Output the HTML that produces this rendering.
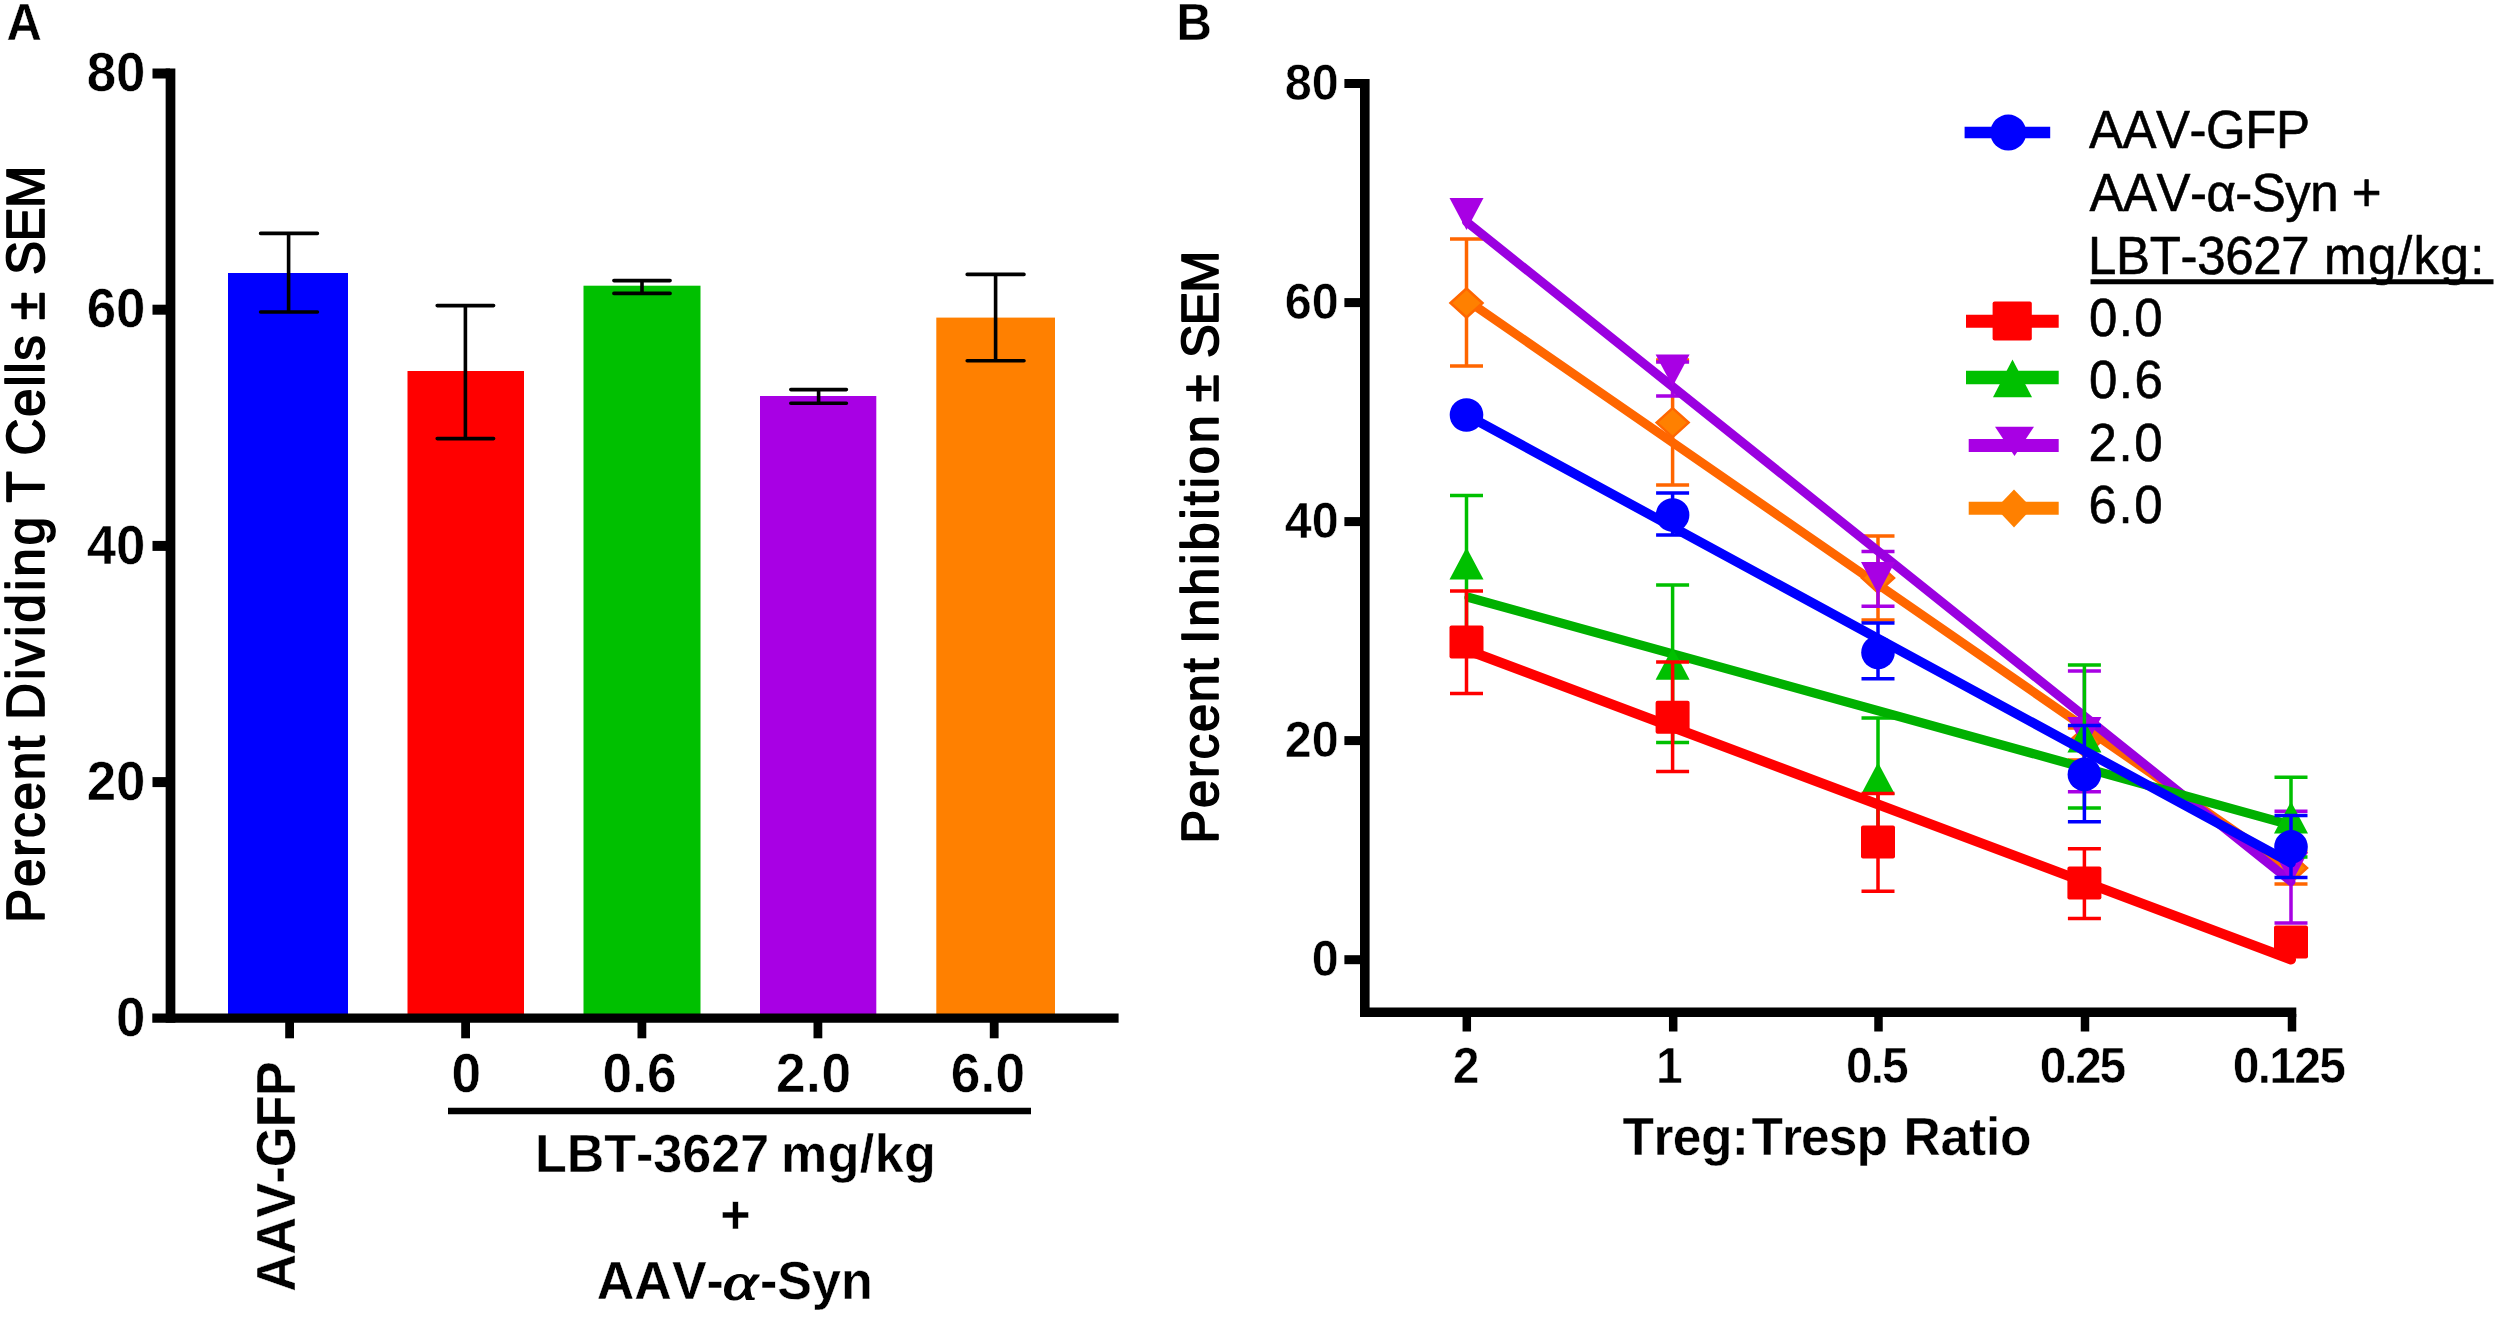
<!DOCTYPE html>
<html lang="en"><head><meta charset="utf-8"><title>Figure</title>
<style>
html,body{margin:0;padding:0;background:#fff;}
body{width:2500px;height:1317px;overflow:hidden;}
svg{display:block;}
text{font-family:"Liberation Sans",Arial,Helvetica,sans-serif;fill:#000;font-kerning:none;}
.b{font-weight:bold;stroke:#fff;stroke-width:0.4px;}
.fb{stroke:#000;stroke-width:1.6px;stroke-linejoin:round;}
.bt{font-weight:bold;stroke:#fff;stroke-width:0.5px;}
.lg{font-weight:normal;stroke:#000;stroke-width:0.6px;stroke-linejoin:round;}
.al{font-family:"Liberation Serif","DejaVu Serif",serif;font-style:italic;font-weight:normal;stroke:#000;stroke-width:1.2px;}
</style></head><body>
<svg width="2500" height="1317" viewBox="0 0 2500 1317">
<rect x="0" y="0" width="2500" height="1317" fill="#fff"/>

<g id="panelA">
<text class="b" transform="translate(6.4,39.7) scale(1,1.04)" font-size="49" text-anchor="start">A</text>
<rect x="228" y="273" width="120.0" height="742.5" fill="#0000ff"/>
<rect x="407.5" y="371" width="116.5" height="644.5" fill="#ff0000"/>
<rect x="583.5" y="285.7" width="117.0" height="729.8" fill="#00c000"/>
<rect x="760" y="396" width="116.3" height="619.5" fill="#a800e4"/>
<rect x="936.3" y="317.6" width="118.7" height="697.9" fill="#ff8000"/>
<path d="M260.6 233.4H317.4M260.6 312H317.4M288.6 233.4V312" stroke="#000" stroke-width="3.6" stroke-linecap="round" fill="none"/>
<path d="M437.20000000000005 305.6H493.59999999999997M437.20000000000005 438.6H493.59999999999997M465.4 305.6V438.6" stroke="#000" stroke-width="3.6" stroke-linecap="round" fill="none"/>
<path d="M613.9 280.6H670.1M613.9 293.4H670.1M642 280.6V293.4" stroke="#000" stroke-width="3.6" stroke-linecap="round" fill="none"/>
<path d="M790.8000000000001 389.6H846.4M790.8000000000001 403.3H846.4M818.6 389.6V403.3" stroke="#000" stroke-width="3.6" stroke-linecap="round" fill="none"/>
<path d="M967.2 274.4H1023.9999999999999M967.2 360.8H1023.9999999999999M995.6 274.4V360.8" stroke="#000" stroke-width="3.6" stroke-linecap="round" fill="none"/>
<path d="M170.5 68.6V1022.8" stroke="#000" stroke-width="9.7" fill="none"/>
<path d="M152.3 1018.1H1118.6" stroke="#000" stroke-width="9.1" fill="none"/>
<path d="M152.5 73.5H170" stroke="#000" stroke-width="10" fill="none"/>
<path d="M152.5 309.7H170" stroke="#000" stroke-width="10" fill="none"/>
<path d="M152.5 545.9H170" stroke="#000" stroke-width="10" fill="none"/>
<path d="M152.5 782.1H170" stroke="#000" stroke-width="10" fill="none"/>
<path d="M289.6 1020V1038.3" stroke="#000" stroke-width="8.8" fill="none"/>
<path d="M465.6 1020V1038.3" stroke="#000" stroke-width="8.8" fill="none"/>
<path d="M641.9 1020V1038.3" stroke="#000" stroke-width="8.8" fill="none"/>
<path d="M817.9 1020V1038.3" stroke="#000" stroke-width="8.8" fill="none"/>
<path d="M994.2 1020V1038.3" stroke="#000" stroke-width="8.8" fill="none"/>
<text class="bt" transform="translate(145.4,91.2) scale(1,1.04)" font-size="52.8" text-anchor="end">80</text>
<text class="bt" transform="translate(145.4,327.4) scale(1,1.04)" font-size="52.8" text-anchor="end">60</text>
<text class="bt" transform="translate(145.4,563.6) scale(1,1.04)" font-size="52.8" text-anchor="end">40</text>
<text class="bt" transform="translate(145.4,799.8) scale(1,1.04)" font-size="52.8" text-anchor="end">20</text>
<text class="bt" transform="translate(145.4,1035.7) scale(1,1.04)" font-size="52.8" text-anchor="end">0</text>
<text class="bt" transform="translate(451.4,1092.3) scale(1,1.04)" font-size="53.2" text-anchor="start" letter-spacing="0.00">0</text>
<text class="bt" transform="translate(602.5,1092.3) scale(1,1.04)" font-size="53.2" text-anchor="start" letter-spacing="0.09">0.6</text>
<text class="bt" transform="translate(775.96,1092.3) scale(1,1.04)" font-size="53.2" text-anchor="start" letter-spacing="0.54">2.0</text>
<text class="bt" transform="translate(950.65,1092.3) scale(1,1.04)" font-size="53.2" text-anchor="start" letter-spacing="0.19">6.0</text>
<text class="b" transform="translate(294.9,0) rotate(-90) scale(1,1.04)" font-size="52.5"><tspan x="-1291.81" letter-spacing="-0.94">AAV-GFP</tspan></text>
<path d="M448 1111H1031" stroke="#000" stroke-width="6.5" fill="none"/>
<text class="b" transform="translate(534.92,1172.3) scale(1,1.04)" font-size="52" text-anchor="start" letter-spacing="0.01">LBT-3627</text>
<text class="b" transform="translate(780.97,1172.3) scale(1,1.04)" font-size="52" text-anchor="start" letter-spacing="0.44">mg/kg</text>
<text class="b" transform="translate(735.5,1233) scale(1,1.04)" font-size="52" text-anchor="middle">+</text>
<text class="b" transform="translate(596.8,1299.2) scale(1,1.04)" font-size="52" text-anchor="start">AAV-</text>
<text class="al" transform="translate(740.3,1299.4) scale(1,1.04)" font-size="50" text-anchor="middle" textLength="35" lengthAdjust="spacingAndGlyphs">α</text>
<text class="b" transform="translate(760,1299.2) scale(1,1.04)" font-size="52" text-anchor="start">-Syn</text>
<text class="fb" transform="translate(44.0,0) rotate(-90) scale(1,1.04)" font-size="51.2"><tspan x="-923.00" letter-spacing="1.82">Percent</tspan><tspan x="-720.10" letter-spacing="3.05">Dividing</tspan><tspan x="-502.55" letter-spacing="0.00">T</tspan><tspan x="-455.50" letter-spacing="1.64">Cells</tspan><tspan x="-320.02" letter-spacing="0.00">±</tspan><tspan x="-274.92" letter-spacing="-0.76">SEM</tspan></text>
</g>
<g id="panelB">
<text class="b" transform="translate(1176.4,40) scale(1,1.04)" font-size="49" text-anchor="start">B</text>
<path d="M1450.0 239H1483.0M1450.0 366H1483.0M1466.5 239V366" stroke="#ff6600" stroke-width="3.5" fill="none"/>
<path d="M1656.1 360H1689.1M1656.1 485H1689.1M1672.6 360V485" stroke="#ff6600" stroke-width="3.5" fill="none"/>
<path d="M1861.5 536H1894.5M1861.5 620H1894.5M1878 536V620" stroke="#ff6600" stroke-width="3.5" fill="none"/>
<path d="M2067.9 728H2100.9M2067.9 760H2100.9M2084.4 728V760" stroke="#ff6600" stroke-width="3.5" fill="none"/>
<path d="M2274.5 852H2307.5M2274.5 884H2307.5M2291 852V884" stroke="#ff6600" stroke-width="3.5" fill="none"/>
<path d="M1466.5 300L2291 870" stroke="#ff6600" stroke-width="9" stroke-linecap="round" fill="none"/>
<path d="M1450.5 303L1466.5 288.5L1482.5 303L1466.5 317.5Z" fill="#ff8000" stroke="#ff6600" stroke-width="2.5" stroke-linejoin="miter"/>
<path d="M1656.6 422.6L1672.6 408.1L1688.6 422.6L1672.6 437.1Z" fill="#ff8000" stroke="#ff6600" stroke-width="2.5" stroke-linejoin="miter"/>
<path d="M1862 578L1878 563.5L1894 578L1878 592.5Z" fill="#ff8000" stroke="#ff6600" stroke-width="2.5" stroke-linejoin="miter"/>
<path d="M2068.4 742L2084.4 727.5L2100.4 742L2084.4 756.5Z" fill="#ff8000" stroke="#ff6600" stroke-width="2.5" stroke-linejoin="miter"/>
<path d="M2275 868L2291 853.5L2307 868L2291 882.5Z" fill="#ff8000" stroke="#ff6600" stroke-width="2.5" stroke-linejoin="miter"/>
<path d="M1656.1 362H1689.1M1656.1 396H1689.1M1672.6 362V396" stroke="#a800e4" stroke-width="3.5" fill="none"/>
<path d="M1861.5 551.6H1894.5M1861.5 606.3H1894.5M1878 551.6V606.3" stroke="#a800e4" stroke-width="3.5" fill="none"/>
<path d="M2067.9 671H2100.9M2067.9 791.7H2100.9M2084.4 671V791.7" stroke="#a800e4" stroke-width="3.5" fill="none"/>
<path d="M2274.5 811.3H2307.5M2274.5 923H2307.5M2291 811.3V923" stroke="#a800e4" stroke-width="3.5" fill="none"/>
<path d="M1466.5 221.8L2291 881.5" stroke="#9a00e0" stroke-width="9" stroke-linecap="round" fill="none"/>
<path d="M1449.5 198H1483.5L1466.5 230Z" fill="#a800e4"/>
<path d="M1655.6 354.5H1689.6L1672.6 386.5Z" fill="#a800e4"/>
<path d="M1861 562H1895L1878 594Z" fill="#a800e4"/>
<path d="M2067.4 717H2101.4L2084.4 749Z" fill="#a800e4"/>
<path d="M2274 852H2308L2291 884Z" fill="#a800e4"/>
<path d="M1450.0 495.6H1483.0M1450.0 631.4H1483.0M1466.5 495.6V631.4" stroke="#00c000" stroke-width="3.5" fill="none"/>
<path d="M1656.1 585H1689.1M1656.1 742.4H1689.1M1672.6 585V742.4" stroke="#00c000" stroke-width="3.5" fill="none"/>
<path d="M1861.5 718H1894.5M1861.5 839H1894.5M1878 718V839" stroke="#00c000" stroke-width="3.5" fill="none"/>
<path d="M2067.9 665H2100.9M2067.9 808H2100.9M2084.4 665V808" stroke="#00c000" stroke-width="3.5" fill="none"/>
<path d="M2274.5 777.3H2307.5M2274.5 857H2307.5M2291 777.3V857" stroke="#00c000" stroke-width="3.5" fill="none"/>
<path d="M1469 597.5L2291 825" stroke="#00b000" stroke-width="9.2" stroke-linecap="round" fill="none"/>
<path d="M1449.5 579.5H1483.5L1466.5 547.5Z" fill="#00c000"/>
<path d="M1655.6 679.7H1689.6L1672.6 647.7Z" fill="#00c000"/>
<path d="M1861 794.6H1895L1878 762.6Z" fill="#00c000"/>
<path d="M2067.4 752.5H2101.4L2084.4 720.5Z" fill="#00c000"/>
<path d="M2274 833.5H2308L2291 801.5Z" fill="#00c000"/>
<path d="M1450.0 591H1483.0M1450.0 693.4H1483.0M1466.5 591V693.4" stroke="#ff0000" stroke-width="3.5" fill="none"/>
<path d="M1656.1 662H1689.1M1656.1 771.4H1689.1M1672.6 662V771.4" stroke="#ff0000" stroke-width="3.5" fill="none"/>
<path d="M1861.5 793.6H1894.5M1861.5 891.3H1894.5M1878 793.6V891.3" stroke="#ff0000" stroke-width="3.5" fill="none"/>
<path d="M2067.9 848.8H2100.9M2067.9 918.4H2100.9M2084.4 848.8V918.4" stroke="#ff0000" stroke-width="3.5" fill="none"/>
<path d="M1467 650L2291 959.5" stroke="#ff0000" stroke-width="10" stroke-linecap="round" fill="none"/>
<rect x="1449.5" y="625.5" width="34" height="33" rx="2" fill="#ff0000"/>
<rect x="1655.6" y="700.8" width="34" height="33" rx="2" fill="#ff0000"/>
<rect x="1861" y="825.5" width="34" height="33" rx="2" fill="#ff0000"/>
<rect x="2067.4" y="866.5" width="34" height="33" rx="2" fill="#ff0000"/>
<rect x="2274" y="925.5" width="34" height="33" rx="2" fill="#ff0000"/>
<path d="M1656.1 493H1689.1M1656.1 535H1689.1M1672.6 493V535" stroke="#0000ff" stroke-width="3.5" fill="none"/>
<path d="M1861.5 623H1894.5M1861.5 678.8H1894.5M1878 623V678.8" stroke="#0000ff" stroke-width="3.5" fill="none"/>
<path d="M2067.9 725.5H2100.9M2067.9 821.7H2100.9M2084.4 725.5V821.7" stroke="#0000ff" stroke-width="3.5" fill="none"/>
<path d="M2274.5 815.5H2307.5M2274.5 877.6H2307.5M2291 815.5V877.6" stroke="#0000ff" stroke-width="3.5" fill="none"/>
<path d="M1466.5 415L2291 863" stroke="#0000ff" stroke-width="9.6" stroke-linecap="round" fill="none"/>
<circle cx="1466.5" cy="415" r="16.8" fill="#0000ff"/>
<circle cx="1672.6" cy="515" r="16.8" fill="#0000ff"/>
<circle cx="1878" cy="652.4" r="16.8" fill="#0000ff"/>
<circle cx="2084.4" cy="774.4" r="16.8" fill="#0000ff"/>
<circle cx="2291" cy="846.9" r="16.8" fill="#0000ff"/>
<path d="M1364.8 79V1017" stroke="#000" stroke-width="9.6" fill="none"/>
<path d="M1360 1012.3H2296.3" stroke="#000" stroke-width="9.5" fill="none"/>
<path d="M1344.4 83.5H1362" stroke="#000" stroke-width="9" fill="none"/>
<path d="M1344.4 302.6H1362" stroke="#000" stroke-width="9" fill="none"/>
<path d="M1344.4 521.6H1362" stroke="#000" stroke-width="9" fill="none"/>
<path d="M1344.4 740.6H1362" stroke="#000" stroke-width="9" fill="none"/>
<path d="M1344.4 959.7H1362" stroke="#000" stroke-width="9" fill="none"/>
<path d="M1466.8 1014V1031.5" stroke="#000" stroke-width="8.5" fill="none"/>
<path d="M1673.2 1014V1031.5" stroke="#000" stroke-width="8.5" fill="none"/>
<path d="M1878.5 1014V1031.5" stroke="#000" stroke-width="8.5" fill="none"/>
<path d="M2085 1014V1031.5" stroke="#000" stroke-width="8.5" fill="none"/>
<path d="M2292 1014V1031.5" stroke="#000" stroke-width="8.5" fill="none"/>
<text class="bt" transform="translate(1338.8,99.7) scale(1,1.04)" font-size="48.5" text-anchor="end">80</text>
<text class="bt" transform="translate(1338.8,318.8) scale(1,1.04)" font-size="48.5" text-anchor="end">60</text>
<text class="bt" transform="translate(1338.8,537.8) scale(1,1.04)" font-size="48.5" text-anchor="end">40</text>
<text class="bt" transform="translate(1338.8,756.8) scale(1,1.04)" font-size="48.5" text-anchor="end">20</text>
<text class="bt" transform="translate(1338.8,975.9) scale(1,1.04)" font-size="48.5" text-anchor="end">0</text>
<text class="bt" transform="translate(1466.2,1082.5) scale(1,1.04)" font-size="48" text-anchor="middle">2</text>
<text class="bt" transform="translate(1669.4,1082.5) scale(1,1.04)" font-size="48" text-anchor="middle">1</text>
<text class="bt" transform="translate(1845.9,1082.5) scale(1,1.04)" font-size="48" text-anchor="start" letter-spacing="-1.95">0.5</text>
<text class="bt" transform="translate(2039.7,1082.5) scale(1,1.04)" font-size="48" text-anchor="start" letter-spacing="-2.30">0.25</text>
<text class="bt" transform="translate(2232.8,1082.5) scale(1,1.04)" font-size="48" text-anchor="start" letter-spacing="-1.75">0.125</text>
<text class="b" transform="translate(1622.52,1155.2) scale(1,1.04)" font-size="51.5" text-anchor="start" letter-spacing="-0.58">Treg:</text>
<text class="b" transform="translate(1751.52,1155.2) scale(1,1.04)" font-size="51.5" text-anchor="start" letter-spacing="-0.96">Tresp</text>
<text class="b" transform="translate(1903.45,1155.2) scale(1,1.04)" font-size="51.5" text-anchor="start" letter-spacing="-0.17">Ratio</text>
<text class="fb" transform="translate(1217.5,0) rotate(-90) scale(1,1.04)" font-size="50.5"><tspan x="-843.44" letter-spacing="1.88">Percent</tspan><tspan x="-643.86" letter-spacing="2.97">Inhibition</tspan><tspan x="-402.30" letter-spacing="0.00">±</tspan><tspan x="-357.89" letter-spacing="-1.05">SEM</tspan></text>
<path d="M1964.6 132.6H2050.2" stroke="#0000ff" stroke-width="11.5" fill="none"/>
<circle cx="2008.3" cy="132.6" r="18" fill="#0000ff"/>
<path d="M1966 321.2H2058.7" stroke="#ff0000" stroke-width="13" fill="none"/>
<rect x="1992.6" y="301.5" width="39.2" height="39" rx="2" fill="#ff0000"/>
<path d="M1966 377.4H2058.7" stroke="#00c000" stroke-width="13.5" fill="none"/>
<path d="M1993 397.2H2032L2012.5 359.5Z" fill="#00c000"/>
<path d="M1968.7 445.6H2058.7" stroke="#a800e4" stroke-width="13" fill="none"/>
<path d="M1995 426.7H2034L2014.5 456Z" fill="#a800e4"/>
<path d="M1968.7 508.3H2058.7" stroke="#ff8000" stroke-width="13" fill="none"/>
<path d="M1996 508.3L2014 489.5L2032 508.3L2014 527.5Z" fill="#ff8000"/>
<text class="lg" transform="translate(2088.9,147.6) scale(1,1.04)" font-size="51" text-anchor="start" letter-spacing="-0.45">AAV-GFP</text>
<text class="lg" transform="translate(2089.5,210.8) scale(1,1.04)" font-size="51" text-anchor="start" letter-spacing="-0.53">AAV-α-Syn +</text>
<text class="lg" transform="translate(2088.12,273.6) scale(1,1.04)" font-size="51" text-anchor="start" letter-spacing="-0.36">LBT-3627</text>
<text class="lg" transform="translate(2324.11,273.6) scale(1,1.04)" font-size="51" text-anchor="start" letter-spacing="1.48">mg/kg:</text>
<path d="M2090.5 281.8H2493.5" stroke="#000" stroke-width="5" fill="none"/>
<text class="lg" transform="translate(2089.01,335.8) scale(1,1.04)" font-size="51" text-anchor="start" letter-spacing="1.34">0.0</text>
<text class="lg" transform="translate(2089.01,398.3) scale(1,1.04)" font-size="51" text-anchor="start" letter-spacing="1.47">0.6</text>
<text class="lg" transform="translate(2088.44,460.5) scale(1,1.04)" font-size="51" text-anchor="start" letter-spacing="1.63">2.0</text>
<text class="lg" transform="translate(2088.41,523) scale(1,1.04)" font-size="51" text-anchor="start" letter-spacing="1.64">6.0</text>
</g>
</svg>
</body></html>
